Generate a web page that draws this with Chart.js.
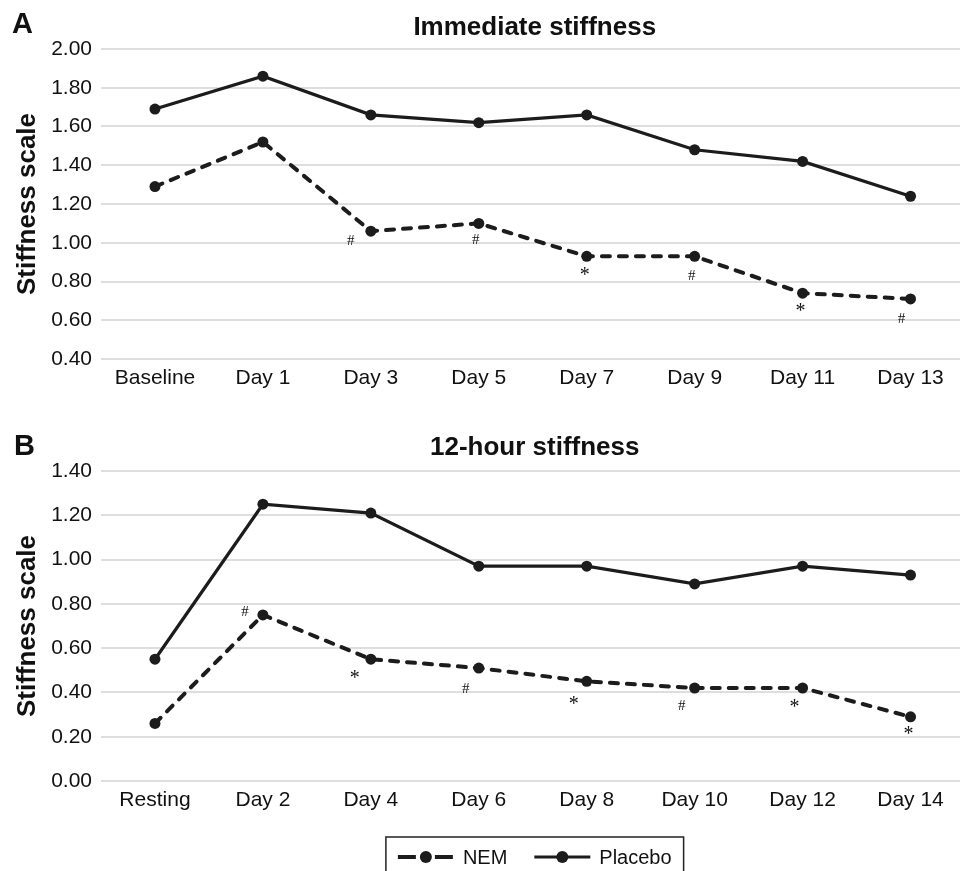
<!DOCTYPE html>
<html>
<head>
<meta charset="utf-8">
<title>Stiffness</title>
<script src="https://cdn.jsdelivr.net/npm/chart.js@4.4.1/dist/chart.umd.min.js"></script>
<style>
  html, body { margin: 0; padding: 0; background: #fff; overflow: hidden; width: 960px; height: 871px; }
  .panel { position: absolute; left: 0; }
  #panelA { top: 0; }
  #panelB { top: 420px; }
</style>
</head>
<body>
<div class="panel" id="panelA"><canvas id="chartA" width="970" height="400"></canvas></div>
<div class="panel" id="panelB"><canvas id="chartB" width="970" height="451"></canvas></div>
<script>
// ---- data ----
const daysA = ['Baseline', 'Day 1', 'Day 3', 'Day 5', 'Day 7', 'Day 9', 'Day 11', 'Day 13'];
const nemA = [1.29, 1.52, 1.06, 1.10, 0.93, 0.93, 0.74, 0.71];
const placeboA = [1.69, 1.86, 1.66, 1.62, 1.66, 1.48, 1.42, 1.24];
const marksA = ['', '', '#', '#', '*', '#', '*', '#'];

const daysB = ['Resting', 'Day 2', 'Day 4', 'Day 6', 'Day 8', 'Day 10', 'Day 12', 'Day 14'];
const nemB = [0.26, 0.75, 0.55, 0.51, 0.45, 0.42, 0.42, 0.29];
const placeboB = [0.55, 1.25, 1.21, 0.97, 0.97, 0.89, 0.97, 0.93];
const marksB = ['', '#', '*', '#', '*', '#', '*', '*'];

const FONT = "'Liberation Sans', Arial, sans-serif";
const SERIF = "'Liberation Serif', 'Times New Roman', serif";
const INK = '#1c1c1c';

Chart.defaults.font.family = FONT;
Chart.defaults.color = '#111';

// panel letter + title, centred over the plot area
const panelTitlePlugin = {
    id: 'panelTitle',
    afterDraw(chart, args, opts) {
        const ctx = chart.ctx;
        const area = chart.chartArea;
        ctx.save();
        ctx.fillStyle = '#111';
        ctx.textBaseline = 'middle';
        ctx.textAlign = 'left';
        ctx.font = 'bold 29px ' + FONT;
        ctx.fillText(opts.letter, opts.letterX, opts.letterY);
        ctx.textAlign = 'center';
        ctx.font = 'bold 26px ' + FONT;
        ctx.fillText(opts.text, (area.left + area.right) / 2 + 2, opts.titleY);
        ctx.restore();
    }
};

// # and * significance marks next to NEM points
const sigMarksPlugin = {
    id: 'sigMarks',
    afterDatasetsDraw(chart, args, opts) {
        const ctx = chart.ctx;
        const meta = chart.getDatasetMeta(0);
        ctx.save();
        ctx.fillStyle = '#111';
        ctx.textAlign = 'center';
        ctx.textBaseline = 'middle';
        opts.marks.forEach((m, i) => {
            if (!m) return;
            const pt = meta.data[i];
            const off = opts.offsets[i];
            if (m === '*') {
                ctx.font = '20px ' + SERIF;
                ctx.fillText(m, pt.x + off[0], pt.y + off[1] + 4);
            } else {
                ctx.font = '15px ' + SERIF;
                ctx.fillText(m, pt.x + off[0], pt.y + off[1]);
            }
        });
        ctx.restore();
    }
};

// boxed legend under panel B
const boxLegendPlugin = {
    id: 'boxLegend',
    afterDraw(chart, args, opts) {
        if (!opts.display) return;
        const ctx = chart.ctx;
        const sets = chart.data.datasets;
        const area = chart.chartArea;
        const symW = 56, gap = 9, itemGap = 27, padX = 12;
        ctx.save();
        ctx.font = '20px ' + FONT;
        const widths = sets.map(ds => symW + gap + ctx.measureText(ds.label).width);
        const total = widths.reduce((a, b) => a + b, 0) + itemGap * (sets.length - 1) + padX * 2;
        let x = (area.left + area.right) / 2 + 2 - total / 2;
        const y = opts.y;
        ctx.strokeStyle = '#222';
        ctx.lineWidth = 1.5;
        ctx.strokeRect(x, y - 20, total, 46);
        x += padX;
        sets.forEach((ds, i) => {
            ctx.strokeStyle = ds.borderColor;
            ctx.lineWidth = ds.borderWidth;
            ctx.setLineDash(ds.borderDash && ds.borderDash.length ? [18, 19] : []);
            ctx.beginPath();
            ctx.moveTo(x, y);
            ctx.lineTo(x + symW, y);
            ctx.stroke();
            ctx.setLineDash([]);
            ctx.fillStyle = ds.pointBackgroundColor;
            ctx.beginPath();
            ctx.arc(x + symW / 2, y, 6, 0, Math.PI * 2);
            ctx.fill();
            ctx.fillStyle = '#111';
            ctx.textAlign = 'left';
            ctx.textBaseline = 'middle';
            ctx.fillText(ds.label, x + symW + gap, y + 1);
            x += widths[i] + itemGap;
        });
        ctx.restore();
    }
};

function makeChart(id, labels, nem, placebo, cfg) {
    return new Chart(document.getElementById(id), {
        type: 'line',
        data: {
            labels: labels,
            datasets: [
                {
                    label: 'NEM',
                    data: nem,
                    borderColor: INK,
                    backgroundColor: INK,
                    borderWidth: 4,
                    borderDash: [8, 9],
                    borderCapStyle: 'round',
                    pointRadius: 5.5,
                    pointBackgroundColor: INK,
                    pointBorderWidth: 0,
                    tension: 0
                },
                {
                    label: 'Placebo',
                    data: placebo,
                    borderColor: INK,
                    backgroundColor: INK,
                    borderWidth: 3.2,
                    pointRadius: 5.5,
                    pointBackgroundColor: INK,
                    pointBorderWidth: 0,
                    tension: 0
                }
            ]
        },
        options: {
            responsive: false,
            animation: false,
            layout: { padding: cfg.padding },
            plugins: {
                legend: { display: false },
                tooltip: { enabled: false },
                panelTitle: cfg.title,
                sigMarks: cfg.sig,
                boxLegend: cfg.legend
            },
            scales: {
                x: {
                    offset: true,
                    grid: { display: false, drawTicks: false },
                    border: { display: false },
                    ticks: { padding: 7, font: { size: 21 }, color: '#111', maxRotation: 0, autoSkip: false },
                    afterFit(scale) { scale.height = 40; }
                },
                y: {
                    min: cfg.min,
                    max: cfg.max,
                    grid: { color: '#dedede', lineWidth: 2, drawTicks: false },
                    border: { display: false },
                    ticks: {
                        stepSize: 0.2,
                        padding: 9,
                        font: { size: 21 },
                        color: '#111',
                        callback: v => Number(v).toFixed(2)
                    },
                    title: {
                        display: true,
                        text: 'Stiffness scale',
                        color: '#111',
                        font: { size: 26, weight: 'bold' },
                        padding: { top: 12, bottom: 0 }
                    },
                    afterFit(scale) { scale.width = 101; }
                }
            }
        },
        plugins: [panelTitlePlugin, sigMarksPlugin, boxLegendPlugin]
    });
}

makeChart('chartA', daysA, nemA, placeboA, {
    min: 0.4, max: 2.0,
    padding: { top: 49, bottom: 1, left: 0, right: 1 },
    title: { letter: 'A', text: 'Immediate stiffness', letterX: 12, letterY: 25, titleY: 28 },
    sig: {
        marks: marksA,
        offsets: [[0, 0], [0, 0], [-20, 10], [-3, 17], [-2, 15], [-3, 20], [-2, 15], [-9, 20]]
    },
    legend: { display: false }
});

makeChart('chartB', daysB, nemB, placeboB, {
    min: 0, max: 1.4,
    padding: { top: 51, bottom: 50, left: 0, right: 1 },
    title: { letter: 'B', text: '12-hour stiffness', letterX: 14, letterY: 27, titleY: 28 },
    sig: {
        marks: marksB,
        offsets: [[0, 0], [-18, -3], [-16, 16], [-13, 21], [-13, 19], [-13, 18], [-8, 16], [-2, 14]]
    },
    legend: { display: true, y: 437 }
});
</script>
</body>
</html>
